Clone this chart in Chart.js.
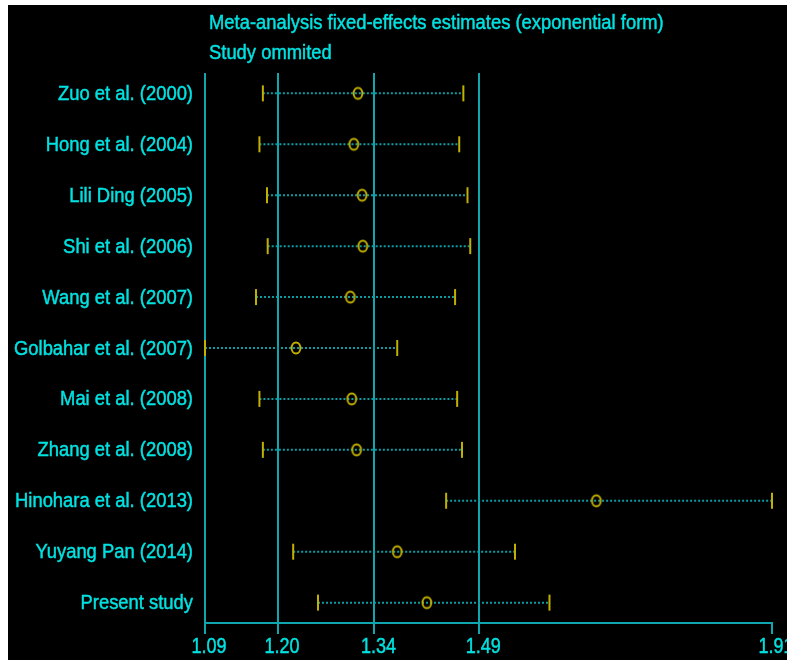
<!DOCTYPE html>
<html>
<head>
<meta charset="utf-8">
<script src="https://cdn.jsdelivr.net/npm/chart.js@4/dist/chart.umd.min.js"></script>
<style>
  html, body { margin: 0; padding: 0; background: #ffffff; }
  #wrap { width: 787px; height: 660px; position: relative; }
</style>
</head>
<body>
<div id="wrap"><canvas id="c" width="787" height="660"></canvas></div>
<script>
// Influence analysis: pooled OR (fixed effects) with each study omitted in turn
const studies = [
  'Zuo et al. (2000)', 'Hong et al. (2004)', 'Lili Ding (2005)', 'Shi et al. (2006)',
  'Wang et al. (2007)', 'Golbahar et al. (2007)', 'Mai et al. (2008)', 'Zhang et al. (2008)',
  'Hinohara et al. (2013)', 'Yuyang Pan (2014)', 'Present study'
];
const estimate = [1.312, 1.306, 1.318, 1.319, 1.301, 1.222, 1.303, 1.310, 1.658, 1.369, 1.412];
const lowerCI  = [1.174, 1.169, 1.180, 1.181, 1.164, 1.090, 1.169, 1.174, 1.440, 1.218, 1.254];
const upperCI  = [1.465, 1.459, 1.471, 1.475, 1.453, 1.369, 1.456, 1.463, 1.913, 1.540, 1.590];

// x-axis marks: range ends plus the overall estimate and its confidence limits
const axisTicks = [1.090, 1.196, 1.336, 1.488, 1.913];
const titleLines = ['Meta-analysis fixed-effects estimates (exponential form)', 'Study ommited'];

const TEAL = '#10a6ae';
const DOTS = '#0e9ca4';
const CYAN = '#00e2e2';
const YELLOW = '#c2b000';

// hollow oval marker for the point estimates
function ovalMarker() {
  const cv = document.createElement('canvas');
  cv.width = 14; cv.height = 16;
  const g = cv.getContext('2d');
  g.strokeStyle = YELLOW;
  g.lineWidth = 2;
  g.beginPath();
  g.ellipse(7, 8, 4.4, 5.5, 0, 0, Math.PI * 2);
  g.stroke();
  return cv;
}

// dotted interval lines, broken between studies
const intervalPts = [];
studies.forEach((s, i) => {
  intervalPts.push({ x: lowerCI[i], y: i });
  intervalPts.push({ x: upperCI[i], y: i });
  intervalPts.push({ x: lowerCI[i], y: null });
});
const capPts = [];
studies.forEach((s, i) => {
  capPts.push({ x: lowerCI[i], y: i });
  capPts.push({ x: upperCI[i], y: i });
});
const estPts = studies.map((s, i) => ({ x: estimate[i], y: i }));

const backdrop = {
  id: 'backdrop',
  beforeDraw(chart) {
    const ctx = chart.ctx;
    ctx.save();
    ctx.fillStyle = '#ffffff';
    ctx.fillRect(0, 0, chart.width, chart.height);
    ctx.fillStyle = '#000000';
    ctx.fillRect(8, 5, chart.width - 8, chart.height - 5);
    ctx.restore();
  }
};

function narrowText(ctx, text, x, y, size, sx, align) {
  ctx.save();
  ctx.font = size + 'px "Liberation Sans", Arial, sans-serif';
  ctx.fillStyle = CYAN;
  ctx.strokeStyle = CYAN;
  ctx.lineWidth = 0.45;
  ctx.textBaseline = 'alphabetic';
  ctx.textAlign = align;
  ctx.translate(x, y);
  ctx.scale(sx, 1);
  ctx.fillText(text, 0, 0);
  ctx.strokeText(text, 0, 0);
  ctx.restore();
}

const labels = {
  id: 'labels',
  afterDraw(chart) {
    const ctx = chart.ctx;
    const xs = chart.scales.x, ys = chart.scales.y;
    const area = chart.chartArea;
    // heading
    narrowText(ctx, titleLines[0], area.left + 4, 29, 20, 0.92, 'left');
    narrowText(ctx, titleLines[1], area.left + 4, 59, 20, 0.92, 'left');
    // study names
    studies.forEach((s, i) => {
      narrowText(ctx, s, area.left - 12, ys.getPixelForValue(i) + 6.5, 20, 0.92, 'right');
    });
    // x tick labels
    xs.ticks.forEach(t => {
      narrowText(ctx, t.value.toFixed(2), xs.getPixelForValue(t.value) + 4, 652.5, 22, 0.82, 'center');
    });
  }
};

new Chart(document.getElementById('c'), {
  type: 'line',
  data: {
    datasets: [
      {
        label: 'interval',
        data: intervalPts,
        borderColor: DOTS,
        borderWidth: 2,
        borderDash: [2, 2],
        pointRadius: 0,
        spanGaps: false,
        clip: false,
        order: 3
      },
      {
        type: 'scatter',
        label: 'limits',
        data: capPts,
        pointStyle: 'line',
        rotation: 90,
        radius: 8,
        borderColor: YELLOW,
        backgroundColor: YELLOW,
        borderWidth: 2,
        clip: false,
        order: 2
      },
      {
        type: 'scatter',
        label: 'estimate',
        data: estPts,
        pointStyle: ovalMarker(),
        radius: 6,
        clip: false,
        order: 1
      }
    ]
  },
  options: {
    responsive: false,
    animation: false,
    events: [],
    layout: { padding: { left: 205, right: 15, top: 73, bottom: 26 } },
    plugins: { legend: { display: false }, tooltip: { enabled: false }, title: { display: false } },
    scales: {
      x: {
        type: 'linear',
        min: axisTicks[0],
        max: axisTicks[axisTicks.length - 1],
        afterBuildTicks: scale => { scale.ticks = axisTicks.map(v => ({ value: v })); },
        ticks: { display: false },
        grid: {
          color: c => (c.tick && c.tick.value === axisTicks[axisTicks.length - 1]) ? 'rgba(0,0,0,0)' : TEAL,
          tickColor: TEAL,
          lineWidth: 2,
          drawTicks: true,
          tickLength: 11
        },
        border: { display: true, color: TEAL, width: 2 }
      },
      y: {
        type: 'linear',
        display: false,
        reverse: true,
        min: -0.4,
        max: 10.4
      }
    }
  },
  plugins: [backdrop, labels]
});
</script>
</body>
</html>
